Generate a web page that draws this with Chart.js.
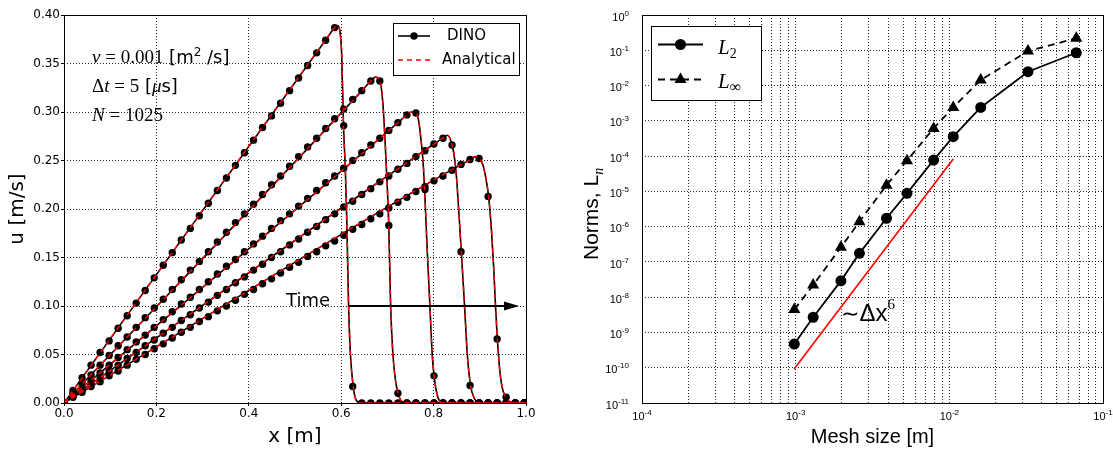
<!DOCTYPE html>
<html>
<head>
<meta charset="utf-8">
<script src="https://cdn.jsdelivr.net/npm/chart.js@4.4.0/dist/chart.umd.min.js"></script>
<style>
    html, body { margin: 0; padding: 0; background: #fff; }
    #wrap { position: relative; width: 1113px; height: 454px; }
    #left { position: absolute; left: 0; top: 0; }
    #right { position: absolute; left: 560px; top: 0; }
</style>
</head>
<body>
<div id="wrap">
    <canvas id="left" width="560" height="454"></canvas>
    <canvas id="right" width="553" height="454"></canvas>
</div>
<script>
// ---------- Datos panel izquierdo: u(x) en 5 instantes ----------
const xTicks = [0, 0.2, 0.4, 0.6, 0.8, 1.0];
const xTickLabels = ['0.0', '0.2', '0.4', '0.6', '0.8', '1.0'];
const uTicks = [0, 0.05, 0.10, 0.15, 0.20, 0.25, 0.30, 0.35, 0.40];
const uTickLabels = ['0.00', '0.05', '0.10', '0.15', '0.20', '0.25', '0.30', '0.35', '0.40'];

// Posiciones de los marcadores DINO
const markerX = [0, 0.0195, 0.0391, 0.0586, 0.0781, 0.0977, 0.1172, 0.1367, 0.1563, 0.1758, 0.1953, 0.2148, 0.2344,
    0.2539, 0.2734, 0.2930, 0.3125, 0.3320, 0.3516, 0.3711, 0.3906, 0.4102, 0.4297, 0.4492, 0.4688, 0.4883, 0.5078,
    0.5273, 0.5469, 0.5664, 0.5859, 0.6055, 0.6250, 0.6445, 0.6641, 0.6836, 0.7031, 0.7227, 0.7422, 0.7617, 0.7813,
    0.8008, 0.8203, 0.8398, 0.8594, 0.8789, 0.8984, 0.9180, 0.9375, 0.9570, 0.9766, 0.9961];

const dinoU1 = [0, 0.013, 0.026, 0.039, 0.052, 0.064, 0.077, 0.090, 0.103, 0.116, 0.129, 0.142, 0.155, 0.168, 0.180,
    0.193, 0.206, 0.219, 0.232, 0.245, 0.258, 0.271, 0.284, 0.296, 0.309, 0.322, 0.335, 0.348, 0.361, 0.374, 0.387,
    0.286, 0.017, 0, 0, 0, 0, 0, 0, 0, 0, 0, 0, 0, 0, 0, 0, 0, 0, 0, 0, 0];
const dinoU2 = [0, 0.010, 0.020, 0.029, 0.039, 0.049, 0.059, 0.068, 0.078, 0.088, 0.098, 0.107, 0.117, 0.127, 0.137,
    0.146, 0.156, 0.166, 0.176, 0.186, 0.195, 0.205, 0.215, 0.225, 0.234, 0.244, 0.254, 0.264, 0.273, 0.283, 0.293,
    0.303, 0.313, 0.322, 0.332, 0.332, 0.183, 0.010, 0, 0, 0, 0, 0, 0, 0, 0, 0, 0, 0, 0, 0, 0];
const dinoU3 = [0, 0.008, 0.016, 0.023, 0.031, 0.039, 0.047, 0.055, 0.063, 0.070, 0.078, 0.086, 0.094, 0.102, 0.109,
    0.117, 0.125, 0.133, 0.141, 0.148, 0.156, 0.164, 0.172, 0.180, 0.188, 0.195, 0.203, 0.211, 0.219, 0.227, 0.234,
    0.242, 0.250, 0.258, 0.266, 0.273, 0.281, 0.289, 0.297, 0.299, 0.220, 0.028, 0, 0, 0, 0, 0, 0, 0, 0, 0, 0];
const dinoU4 = [0, 0.007, 0.013, 0.020, 0.026, 0.033, 0.039, 0.046, 0.052, 0.059, 0.065, 0.072, 0.078, 0.085, 0.091,
    0.098, 0.104, 0.111, 0.117, 0.124, 0.130, 0.137, 0.143, 0.150, 0.156, 0.163, 0.169, 0.176, 0.182, 0.189, 0.195,
    0.202, 0.208, 0.215, 0.221, 0.228, 0.234, 0.241, 0.247, 0.254, 0.260, 0.267, 0.273, 0.266, 0.156, 0.018,
    0, 0, 0, 0, 0, 0];
const dinoU5 = [0, 0.006, 0.011, 0.017, 0.022, 0.028, 0.033, 0.039, 0.045, 0.050, 0.056, 0.061, 0.067, 0.073, 0.078,
    0.084, 0.089, 0.095, 0.100, 0.106, 0.112, 0.117, 0.123, 0.128, 0.134, 0.140, 0.145, 0.151, 0.156, 0.162, 0.167,
    0.173, 0.179, 0.184, 0.190, 0.195, 0.201, 0.207, 0.212, 0.218, 0.223, 0.229, 0.234, 0.240, 0.246, 0.251, 0.252,
    0.213, 0.066, 0.006, 0, 0];

// Perfiles continuos (rampa + choque viscoso)
const lineX1 = [0, 0.566, 0.586, 0.592, 0.597, 0.601, 0.605, 0.609, 0.612, 0.616, 0.620, 0.626, 0.630, 0.636, 0.645, 1.0];
const lineU1 = [0, 0.374, 0.387, 0.389, 0.384, 0.360, 0.286, 0.240, 0.190, 0.100, 0.050, 0.017, 0.006, 0.001, 0, 0];
const lineX2 = [0, 0.645, 0.664, 0.674, 0.684, 0.690, 0.695, 0.700, 0.703, 0.707, 0.712, 0.717, 0.723, 0.730, 0.740, 1.0];
const lineU2 = [0, 0.322, 0.332, 0.336, 0.332, 0.310, 0.270, 0.220, 0.183, 0.100, 0.050, 0.025, 0.010, 0.002, 0, 0];
const lineX3 = [0, 0.723, 0.742, 0.752, 0.762, 0.768, 0.773, 0.777, 0.781, 0.786, 0.792, 0.797, 0.801, 0.808, 0.819, 1.0];
const lineU3 = [0, 0.289, 0.297, 0.300, 0.299, 0.290, 0.270, 0.250, 0.215, 0.160, 0.100, 0.050, 0.028, 0.008, 0, 0];
const lineX4 = [0, 0.801, 0.820, 0.830, 0.840, 0.846, 0.850, 0.853, 0.860, 0.867, 0.873, 0.880, 0.888, 0.897, 1.0];
const lineU4 = [0, 0.267, 0.273, 0.276, 0.266, 0.250, 0.230, 0.209, 0.156, 0.100, 0.050, 0.018, 0.005, 0, 0];
const lineX5 = [0, 0.860, 0.880, 0.890, 0.900, 0.907, 0.913, 0.919, 0.925, 0.930, 0.934, 0.938, 0.944, 0.950, 0.957, 0.965, 0.975, 1.0];
const lineU5 = [0, 0.246, 0.251, 0.254, 0.252, 0.245, 0.232, 0.213, 0.180, 0.140, 0.100, 0.066, 0.030, 0.013, 0.006, 0.001, 0, 0];

// Flecha "Time"
const timeArrow = { from: 0.616, to: 0.985, u: 0.10 };

// ---------- Datos panel derecho: normas de error ----------
const meshSize = [0.00098, 0.0013, 0.00197, 0.0026, 0.0039, 0.0053, 0.0079, 0.0106, 0.016, 0.0325, 0.067];
const normL2 = [4.7e-10, 2.7e-9, 2.9e-8, 1.75e-7, 1.73e-6, 8.8e-6, 7.7e-5, 3.55e-4, 2.4e-3, 2.47e-2, 8.5e-2];
const normLinf = [4.5e-9, 2.2e-8, 2.6e-7, 1.38e-6, 1.5e-5, 7.4e-5, 6.1e-4, 2.4e-3, 1.43e-2, 9.5e-2, 0.218];
const refX = [0.000977, 0.0106];
const refNorm = [9.2e-11, 8.3e-5];

const meshDecades = [1e-4, 1e-3, 1e-2, 1e-1];
const meshExponents = ['-4', '-3', '-2', '-1'];
const normDecades = [1, 1e-1, 1e-2, 1e-3, 1e-4, 1e-5, 1e-6, 1e-7, 1e-8, 1e-9, 1e-10, 1e-11];
const normExponents = ['0', '-1', '-2', '-3', '-4', '-5', '-6', '-7', '-8', '-9', '-10', '-11'];

const SANS = '"DejaVu Sans", sans-serif';
const ARIAL = '"Liberation Sans", Arial, sans-serif';
const SERIF = '"Liberation Serif", "Times New Roman", serif';

const toPts = (xs, ys) => ys.map((y, i) => ({ x: xs[i], y: y }));

// Texto con varios tramos de fuente (para las fórmulas)
function drawRuns(ctx, x, y, runs) {
    runs.forEach(r => {
        ctx.font = r.f;
        ctx.fillText(r.t, x, y + (r.dy || 0));
        x += ctx.measureText(r.t).width;
    });
    return x;
}

// ---------- Panel izquierdo ----------
const curvesX = [lineX1, lineX2, lineX3, lineX4, lineX5];
const curvesU = [lineU1, lineU2, lineU3, lineU4, lineU5];
const dinoU = [dinoU1, dinoU2, dinoU3, dinoU4, dinoU5];

const leftDatasets = [];
curvesX.forEach((xs, i) => {
    leftDatasets.push({
        data: toPts(xs, curvesU[i]), showLine: true, borderColor: '#ff0000', borderWidth: 1.4,
        borderDash: [5, 4], pointRadius: 0, cubicInterpolationMode: 'monotone', clip: 0
    });
});
dinoU.forEach(us => {
    leftDatasets.push({
        data: toPts(markerX, us), showLine: false, pointRadius: 3.7, pointBackgroundColor: '#000',
        pointBorderWidth: 0, clip: 0
    });
});
curvesX.forEach((xs, i) => {
    leftDatasets.push({
        data: toPts(xs, curvesU[i]), showLine: true, borderColor: '#000', borderWidth: 1.6,
        pointRadius: 0, cubicInterpolationMode: 'monotone', clip: 0
    });
});

const leftOverlay = {
    id: 'leftOverlay',
    afterDatasetsDraw(chart) {
        const { ctx, chartArea: a, scales: { x, y } } = chart;
        ctx.save();
        ctx.fillStyle = '#000';
        ctx.strokeStyle = '#000';

        // Flecha del tiempo
        const ya = y.getPixelForValue(timeArrow.u);
        const x0 = x.getPixelForValue(timeArrow.from);
        const x1 = x.getPixelForValue(timeArrow.to);
        ctx.lineWidth = 2;
        ctx.beginPath(); ctx.moveTo(x0, ya); ctx.lineTo(x1 - 10, ya); ctx.stroke();
        ctx.beginPath(); ctx.moveTo(x1, ya); ctx.lineTo(x1 - 15, ya - 4.5); ctx.lineTo(x1 - 15, ya + 4.5);
        ctx.closePath(); ctx.fill();
        ctx.font = '18px ' + SANS;
        ctx.textBaseline = 'alphabetic';
        ctx.fillText('Time', 286, 306);

        // Parámetros
        const it = 'italic 19px ' + SERIF, rm = '19px ' + SERIF, sa = '18px ' + SANS, sup = '12px ' + SANS;
        drawRuns(ctx, 92, 63, [
            { t: 'ν', f: it }, { t: ' = 0.001', f: rm }, { t: ' [m', f: sa }, { t: '2', f: sup, dy: -7 },
            { t: ' /s]', f: sa }
        ]);
        drawRuns(ctx, 92, 91.5, [
            { t: 'Δ', f: rm }, { t: 't', f: it }, { t: ' = 5', f: rm }, { t: ' [', f: sa }, { t: 'μ', f: it },
            { t: 's]', f: sa }
        ]);
        drawRuns(ctx, 92, 120.5, [{ t: 'N', f: it }, { t: ' = 1025', f: rm }]);

        // Leyenda
        ctx.lineWidth = 1;
        ctx.fillStyle = '#fff';
        ctx.fillRect(393.5, 23.5, 126, 52);
        ctx.strokeRect(393.5, 23.5, 126, 52);
        ctx.fillStyle = '#000';
        ctx.lineWidth = 1.6;
        ctx.beginPath(); ctx.moveTo(398, 36); ctx.lineTo(430, 36); ctx.stroke();
        ctx.beginPath(); ctx.arc(414, 36, 3.7, 0, Math.PI * 2); ctx.fill();
        ctx.strokeStyle = '#ff0000';
        ctx.lineWidth = 1.4;
        ctx.setLineDash([5, 4]);
        ctx.beginPath(); ctx.moveTo(398, 60); ctx.lineTo(432, 60); ctx.stroke();
        ctx.setLineDash([]);
        ctx.font = '15px ' + SANS;
        ctx.textBaseline = 'middle';
        ctx.fillText('DINO', 447, 36);
        ctx.fillText('Analytical', 442, 60);

        // Marco
        ctx.strokeStyle = '#000';
        ctx.lineWidth = 1;
        ctx.strokeRect(a.left + 0.5, a.top + 0.5, a.right - a.left, a.bottom - a.top);
        ctx.restore();
    }
};

new Chart(document.getElementById('left'), {
    type: 'scatter',
    data: { datasets: leftDatasets },
    options: {
        responsive: false,
        animation: false,
        layout: { padding: { top: 15, right: 34, left: 0, bottom: 0 } },
        plugins: { legend: { display: false }, tooltip: { enabled: false } },
        scales: {
            x: {
                type: 'linear', min: 0, max: 1,
                afterBuildTicks: s => { s.ticks = xTicks.map(v => ({ value: v })); },
                afterFit: s => { s.height = 51; s.paddingLeft = 0; s.paddingRight = 0; },
                ticks: {
                    callback: (v, i) => xTickLabels[i], color: '#000', padding: 1,
                    font: { family: SANS, size: 12 }, maxRotation: 0, autoSkip: false
                },
                grid: { color: 'rgba(0,0,0,0.85)', lineWidth: 1, tickLength: 3, tickColor: '#000' },
                border: { display: false, dash: [1, 2] },
                title: {
                    display: true, text: 'x [m]', color: '#000',
                    font: { family: SANS, size: 20 }, padding: { top: 0, bottom: 5 }
                }
            },
            y: {
                type: 'linear', min: 0, max: 0.4,
                afterBuildTicks: s => { s.ticks = uTicks.map(v => ({ value: v })); },
                afterFit: s => { s.width = 64; s.paddingTop = 0; s.paddingBottom = 0; },
                ticks: {
                    callback: (v, i) => uTickLabels[i], color: '#000', padding: 1,
                    font: { family: SANS, size: 12 }, autoSkip: false
                },
                grid: { color: 'rgba(0,0,0,0.85)', lineWidth: 1, tickLength: 3, tickColor: '#000' },
                border: { display: false, dash: [1, 2] },
                title: {
                    display: true, text: 'u [m/s]', color: '#000',
                    font: { family: SANS, size: 20 }, padding: { top: 6, bottom: 0 }
                }
            }
        }
    },
    plugins: [leftOverlay]
});

// ---------- Panel derecho ----------
const meshGrid = [];
meshDecades.forEach((d, i) => {
    if (i === meshDecades.length - 1) { meshGrid.push(d); return; }
    for (let m = 1; m <= 9; m++) meshGrid.push(m * d);
});

const rightOverlay = {
    id: 'rightOverlay',
    afterDatasetsDraw(chart) {
        const { ctx, chartArea: a, scales: { x, y } } = chart;
        ctx.save();
        ctx.fillStyle = '#000';
        ctx.strokeStyle = '#000';
        ctx.textBaseline = 'alphabetic';

        // Etiquetas de los ejes con exponente
        const big = '11px ' + ARIAL, small = '8px ' + ARIAL;
        meshDecades.forEach((d, i) => {
            const px = x.getPixelForValue(d);
            ctx.font = big; const w1 = ctx.measureText('10').width;
            ctx.font = small; const w2 = ctx.measureText(meshExponents[i]).width;
            const sx = px - (w1 + w2) / 2;
            drawRuns(ctx, sx, 420, [{ t: '10', f: big }, { t: meshExponents[i], f: small, dy: -5 }]);
        });
        normDecades.forEach((d, i) => {
            const py = y.getPixelForValue(d);
            ctx.font = big; const w1 = ctx.measureText('10').width;
            ctx.font = small; const w2 = ctx.measureText(normExponents[i]).width;
            const sx = 69 - w1 - w2;
            drawRuns(ctx, sx, py + 5.6, [{ t: '10', f: big }, { t: normExponents[i], f: small, dy: -5 }]);
        });

        // Título vertical "Norms, L_n"
        ctx.save();
        ctx.translate(38, 260);
        ctx.rotate(-Math.PI / 2);
        drawRuns(ctx, 0, 0, [{ t: 'Norms, L', f: '21px ' + ARIAL }, { t: 'n', f: 'italic 14px ' + SERIF, dy: 5 }]);
        ctx.restore();

        // Pendiente de referencia
        drawRuns(ctx, 281, 321, [
            { t: '∼', f: '22px ' + SANS }, { t: 'Δx', f: '24px ' + ARIAL }, { t: '6', f: '15px ' + SERIF, dy: -12 }
        ]);

        // Leyenda
        ctx.lineWidth = 1;
        ctx.fillStyle = '#fff';
        ctx.fillRect(91.5, 26.5, 110, 74);
        ctx.strokeRect(91.5, 26.5, 110, 74);
        ctx.fillStyle = '#000';
        ctx.lineWidth = 1.8;
        ctx.beginPath(); ctx.moveTo(98, 44.5); ctx.lineTo(143, 44.5); ctx.stroke();
        ctx.beginPath(); ctx.arc(120.5, 44.5, 5.5, 0, Math.PI * 2); ctx.fill();
        ctx.setLineDash([7, 5]);
        ctx.beginPath(); ctx.moveTo(98, 79.5); ctx.lineTo(143, 79.5); ctx.stroke();
        ctx.setLineDash([]);
        const r = 7, cx = 120.5, cy = 79.5;
        ctx.beginPath();
        ctx.moveTo(cx, cy - r);
        ctx.lineTo(cx + r * Math.sin(2 * Math.PI / 3), cy - r * Math.cos(2 * Math.PI / 3));
        ctx.lineTo(cx + r * Math.sin(4 * Math.PI / 3), cy - r * Math.cos(4 * Math.PI / 3));
        ctx.closePath(); ctx.fill();
        drawRuns(ctx, 158, 53.5, [{ t: 'L', f: 'italic 21px ' + SERIF }, { t: '2', f: '14px ' + SERIF, dy: 4 }]);
        drawRuns(ctx, 158, 88, [{ t: 'L', f: 'italic 21px ' + SERIF }, { t: '∞', f: '16px ' + SERIF, dy: 4 }]);

        // Marco
        ctx.lineWidth = 1;
        ctx.strokeRect(a.left + 0.5, a.top + 0.5, a.right - a.left, a.bottom - a.top);
        ctx.restore();
    }
};

new Chart(document.getElementById('right'), {
    type: 'scatter',
    data: {
        datasets: [
            {
                data: toPts(refX, refNorm), showLine: true, borderColor: '#ff0000', borderWidth: 1.6,
                pointRadius: 0
            },
            {
                data: toPts(meshSize, normL2), showLine: true, borderColor: '#000', borderWidth: 1.8,
                pointRadius: 5.5, pointBackgroundColor: '#000', pointBorderWidth: 0
            },
            {
                data: toPts(meshSize, normLinf), showLine: true, borderColor: '#000', borderWidth: 1.8,
                borderDash: [7, 5], pointStyle: 'triangle', pointRadius: 7, pointBackgroundColor: '#000',
                pointBorderWidth: 0
            }
        ]
    },
    options: {
        responsive: false,
        animation: false,
        layout: { padding: { top: 15, right: 10, left: 0, bottom: 0 } },
        plugins: { legend: { display: false }, tooltip: { enabled: false } },
        scales: {
            x: {
                type: 'logarithmic', min: 1e-4, max: 1e-1,
                afterBuildTicks: s => { s.ticks = meshGrid.map(v => ({ value: v })); },
                afterFit: s => { s.height = 51; s.paddingLeft = 0; s.paddingRight = 0; },
                ticks: { display: false },
                grid: { color: 'rgba(0,0,0,0.85)', lineWidth: 1, drawTicks: false },
                border: { display: false, dash: [1, 2] },
                title: {
                    display: true, text: 'Mesh size [m]', color: '#000',
                    font: { family: ARIAL, size: 20 }, padding: { top: 0, bottom: 5 }
                }
            },
            y: {
                type: 'logarithmic', min: 1e-11, max: 1,
                afterBuildTicks: s => { s.ticks = normDecades.map(v => ({ value: v })); },
                afterFit: s => { s.width = 82; s.paddingTop = 0; s.paddingBottom = 0; },
                ticks: { display: false },
                grid: { color: 'rgba(0,0,0,0.85)', lineWidth: 1, drawTicks: false },
                border: { display: false, dash: [1, 2] }
            }
        }
    },
    plugins: [rightOverlay]
});
</script>
</body>
</html>
